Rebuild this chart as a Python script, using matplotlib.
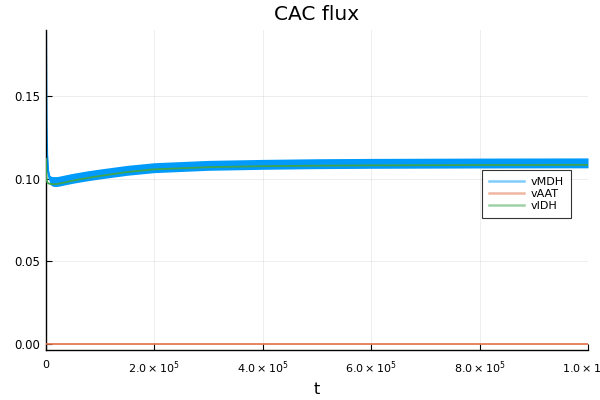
import matplotlib
matplotlib.use("Agg")
import matplotlib.pyplot as plt
import numpy as np
from matplotlib.lines import Line2D

plt.rcParams['font.family'] = ['DejaVu Sans']
plt.rcParams['mathtext.fontset'] = 'dejavusans'

title = "CAC flux"
xlabel = "t"
series_names = ["vMDH", "vAAT", "vIDH"]

t = [0, 500, 1000, 2000, 4000, 7000, 10000, 15000, 20000, 25000, 35000, 50000,
     75000, 100000, 150000, 200000, 300000, 400000, 500000, 600000, 800000, 1000000]
vMDH = [0.188, 0.160, 0.135, 0.115, 0.104, 0.0995, 0.0985, 0.0982, 0.0982, 0.0985, 0.0992, 0.1002,
        0.1016, 0.1028, 0.1050, 0.1066, 0.1080, 0.1086, 0.1090, 0.1092, 0.1094, 0.1095]
vMDH_spread = [0.0, 0.0005, 0.001, 0.0015, 0.002, 0.0025, 0.0028, 0.003, 0.003, 0.003, 0.003, 0.003,
               0.003, 0.003, 0.003, 0.003, 0.003, 0.003, 0.003, 0.003, 0.003, 0.003]
vIDH = [0.112, 0.104, 0.100, 0.098, 0.0972, 0.0968, 0.0967, 0.0966, 0.0967, 0.0970, 0.0977, 0.0988,
        0.1003, 0.1016, 0.1040, 0.1056, 0.1069, 0.1075, 0.1078, 0.1080, 0.1082, 0.1083]
t_aat = [0, 1000000]
vAAT = [0.0002, 0.0002]

xticks = [0, 200000, 400000, 600000, 800000, 1000000]
xticklabels = ["0", r"$2.0\times10^{5}$", r"$4.0\times10^{5}$", r"$6.0\times10^{5}$",
               r"$8.0\times10^{5}$", r"$1.0\times10^{6}$"]
yticks = [0.00, 0.05, 0.10, 0.15]
yticklabels = ["0.00", "0.05", "0.10", "0.15"]

c_blue, c_red, c_green = "#009AFA", "#E36F47", "#3EA44E"

fig = plt.figure(figsize=(6, 4), dpi=100)
ax = fig.add_axes([46/600, 1-350/400, (588-46)/600, 320/400])

tt = np.array(t); m = np.array(vMDH); s = np.array(vMDH_spread)
ax.fill_between(tt, m - s, m + s, color=c_blue, lw=0, zorder=2)
ax.plot(tt, m, color=c_blue, lw=1.5, zorder=2)
ax.plot(t_aat, vAAT, color=c_red, lw=1.2, zorder=3)
ax.plot(t, vIDH, color=c_green, lw=1.3, zorder=4)

ax.set_xlim(0, 1000000)
ax.set_ylim(-0.0036, 0.1898)
ax.set_xticks(xticks)
ax.set_xticklabels(xticklabels)
ax.set_yticks(yticks)
ax.set_yticklabels(yticklabels)
ax.tick_params(axis='both', direction='in', length=4, width=0.8, colors='black')
ax.tick_params(axis='x', pad=7, labelsize=8)
ax.tick_params(axis='y', pad=4, labelsize=8.5)
ax.grid(True, color='black', alpha=0.08, lw=0.6)
ax.set_axisbelow(True)
for sp in ['top', 'right']:
    ax.spines[sp].set_visible(False)
for sp in ['left', 'bottom']:
    ax.spines[sp].set_linewidth(1.0)
ax.set_title(title, fontsize=14.5, pad=7)
ax.set_xlabel(xlabel, fontsize=11.5, labelpad=4)

handles = [Line2D([0], [0], color=c, lw=1.8, alpha=0.5) for c in (c_blue, c_red, c_green)]
leg = ax.legend(handles, series_names, loc='upper left', bbox_to_anchor=((482-46)/542, (350-170)/320),
                fontsize=8, frameon=True, fancybox=False, borderpad=0.6, labelspacing=0.2,
                handlelength=3.2, handletextpad=0.6, borderaxespad=0)
leg.get_frame().set_edgecolor('black')
leg.get_frame().set_linewidth(0.8)

fig.savefig("out.png", dpi=100)
